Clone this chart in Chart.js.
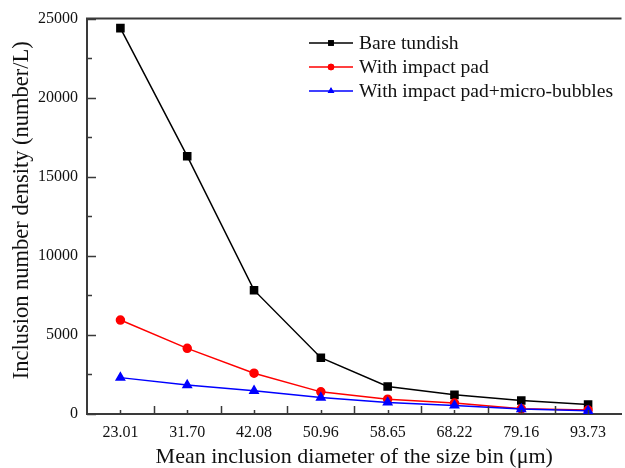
<!DOCTYPE html>
<html>
<head>
<meta charset="utf-8">
<script src="https://cdn.jsdelivr.net/npm/chart.js@4/dist/chart.umd.min.js"></script>
<style>
  html, body { margin: 0; padding: 0; background: #fff; overflow: hidden; }
  #wrap { width: 628px; height: 468px; }
</style>
</head>
<body>
<div id="wrap"><canvas id="c" width="628" height="468"></canvas></div>
<script>
// Mean inclusion diameter of each size bin (µm)
const sizeBins = ['23.01', '31.70', '42.08', '50.96', '58.65', '68.22', '79.16', '93.73'];

// Inclusion number density (number/L) per size bin
const bareTundish = [24400, 16300, 7830, 3560, 1740, 1210, 850, 600];
const impactPad = [5940, 4150, 2580, 1400, 940, 690, 330, 250];
const impactPadBubbles = [2300, 1830, 1470, 1040, 730, 540, 310, 200];

const yTicks = [0, 5000, 10000, 15000, 20000, 25000];

const yTitle = 'Inclusion number density (number/L)';
const xTitle = 'Mean inclusion diameter of the size bin (\u03bcm)';

const FONT = '"Liberation Serif", "Times New Roman", serif';
const AXIS = '#3a3a3a';

// Frame top edge, inward tick marks, y title and the legend box
const decorations = {
  id: 'decorations',
  afterDraw(chart) {
    const ctx = chart.ctx;
    const a = chart.chartArea;
    const xs = chart.scales.x, ys = chart.scales.y;
    ctx.save();
    ctx.strokeStyle = AXIS;
    ctx.lineWidth = 2;
    ctx.beginPath();
    ctx.moveTo(a.left - 1, a.top);
    ctx.lineTo(a.right, a.top);
    ctx.stroke();

    ctx.lineWidth = 1.5;
    ctx.beginPath();
    // y: major every 5000, minor halfway
    for (let v = 0; v <= 25000; v += 2500) {
      const y = Math.round(ys.getPixelForValue(v)) + 0.5;
      const len = v % 5000 === 0 ? 9 : 5;
      ctx.moveTo(a.left, y);
      ctx.lineTo(a.left + len, y);
    }
    // x: short ticks at bins, long ticks at bin boundaries
    const n = sizeBins.length;
    for (let i = 0; i < n; i++) {
      const x = Math.round(xs.getPixelForValue(i)) + 0.5;
      ctx.moveTo(x, a.bottom);
      ctx.lineTo(x, a.bottom - 4);
      if (i < n - 1) {
        const xb = Math.round((xs.getPixelForValue(i) + xs.getPixelForValue(i + 1)) / 2) + 0.5;
        ctx.moveTo(xb, a.bottom);
        ctx.lineTo(xb, a.bottom - 8);
      }
    }
    ctx.stroke();

    // y axis title
    ctx.save();
    ctx.translate(22, (a.top + a.bottom) / 2 - 6);
    ctx.rotate(-Math.PI / 2);
    ctx.font = '22.5px ' + FONT;
    ctx.fillStyle = '#111';
    ctx.textAlign = 'center';
    ctx.textBaseline = 'middle';
    ctx.fillText(yTitle, 0, 0);
    ctx.restore();

    // legend
    const lx = 309, lw = 44, tx = 359, y0 = 43, dy = 24;
    ctx.font = '19.6px ' + FONT;
    ctx.textBaseline = 'middle';
    ctx.textAlign = 'left';
    chart.data.datasets.forEach((ds, i) => {
      const y = y0 + i * dy;
      ctx.strokeStyle = ds.borderColor;
      ctx.lineWidth = 1.5;
      ctx.beginPath();
      ctx.moveTo(lx, y);
      ctx.lineTo(lx + lw, y);
      ctx.stroke();
      ctx.fillStyle = ds.backgroundColor;
      Chart.helpers.drawPoint(ctx, {
        pointStyle: ds.pointStyle,
        radius: ds.pointRadius * 0.8,
        rotation: 0,
        borderWidth: 0
      }, lx + lw / 2, y);
      ctx.fill();
      ctx.fillStyle = '#111';
      ctx.fillText(ds.label, tx, y + 1);
    });
    ctx.restore();
  }
};

new Chart(document.getElementById('c'), {
  type: 'line',
  data: {
    labels: sizeBins,
    datasets: [
      {
        label: 'Bare tundish',
        data: bareTundish,
        borderColor: '#000000',
        backgroundColor: '#000000',
        pointStyle: 'rect',
        pointRadius: 5,
        borderWidth: 1.5,
        order: 2
      },
      {
        label: 'With impact pad',
        data: impactPad,
        borderColor: '#ff0000',
        backgroundColor: '#ff0000',
        pointStyle: 'circle',
        pointRadius: 4,
        borderWidth: 1.5,
        order: 1
      },
      {
        label: 'With impact pad+micro-bubbles',
        data: impactPadBubbles,
        borderColor: '#0000ff',
        backgroundColor: '#0000ff',
        pointStyle: 'triangle',
        pointRadius: 4.8,
        borderWidth: 1.5,
        order: 0
      }
    ]
  },
  options: {
    responsive: false,
    animation: false,
    devicePixelRatio: 1,
    layout: { padding: { top: 17, right: 0, bottom: 0, left: 0 } },
    elements: {
      line: { tension: 0 },
      point: { borderWidth: 0, hoverRadius: 5 }
    },
    plugins: {
      legend: { display: false },
      tooltip: { enabled: false }
    },
    scales: {
      x: {
        type: 'category',
        offset: true,
        grid: { display: false, drawTicks: false },
        border: { display: true, color: AXIS, width: 2 },
        ticks: {
          color: '#111',
          font: { family: FONT, size: 16 },
          padding: 9,
          maxRotation: 0,
          autoSkip: false
        },
        title: {
          display: true,
          text: xTitle,
          color: '#111',
          font: { family: FONT, size: 22, lineHeight: 1 },
          padding: { top: 0, bottom: 0 }
        },
        afterFit(scale) { scale.height = 54; }
      },
      y: {
        type: 'linear',
        min: 0,
        max: 25000,
        afterBuildTicks(scale) { scale.ticks = yTicks.map(v => ({ value: v })); },
        grid: { display: false, drawTicks: false },
        border: { display: true, color: AXIS, width: 2 },
        ticks: {
          color: '#111',
          font: { family: FONT, size: 16 },
          padding: 9,
          callback: (v) => String(v)
        },
        title: { display: false },
        afterFit(scale) { scale.width = 87; }
      }
    }
  },
  plugins: [decorations]
});
</script>
</body>
</html>
